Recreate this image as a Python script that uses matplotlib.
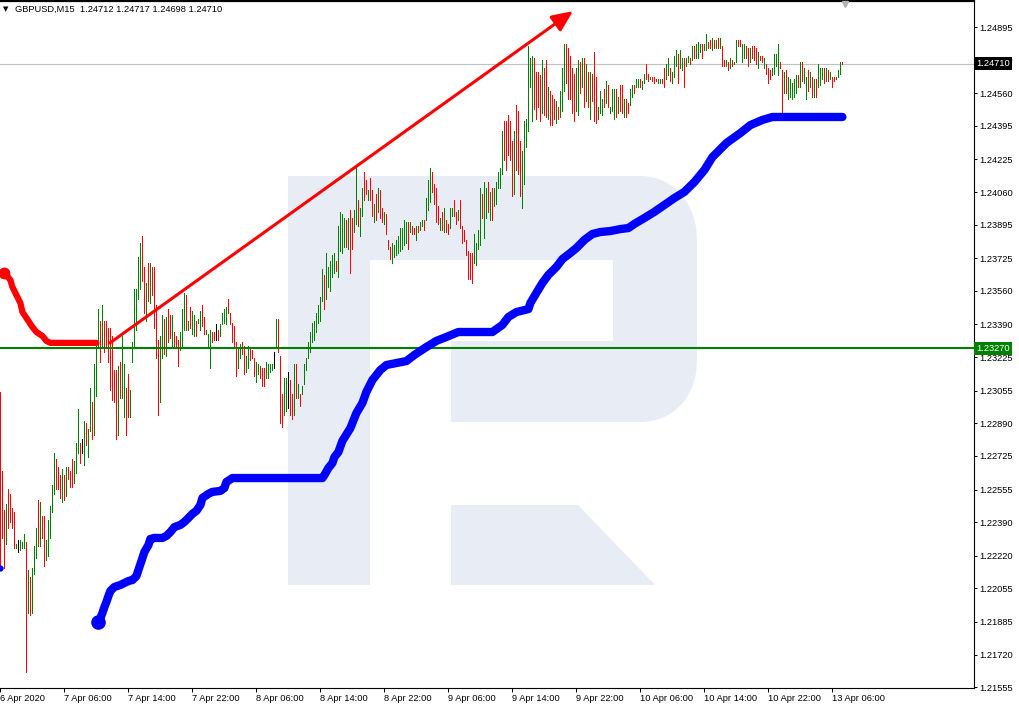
import matplotlib.pyplot as plt
from matplotlib.path import Path
from matplotlib.patches import PathPatch
from matplotlib.transforms import Affine2D

plt.rcParams['font.family'] = ['Liberation Sans', 'DejaVu Sans']

W, H = 1019, 710

symbol_line = "GBPUSD,M15  1.24712 1.24717 1.24698 1.24710"

# GBPUSD M15 bars, bar 0 = 6 Apr 22:00 (high / low)
high = [
    1.2305, 1.2265, 1.2245, 1.2248, 1.2256, 1.2253, 1.2246, 1.2244, 1.2228, 1.2230,
    1.2230, 1.2229, 1.2233, 1.2229, 1.2215, 1.2211, 1.2216, 1.2227, 1.2236, 1.2250,
    1.2249, 1.2242, 1.2242, 1.2230, 1.2240, 1.2247, 1.2258, 1.2274, 1.2271, 1.2267,
    1.2263, 1.2266, 1.2263, 1.2267, 1.2267, 1.2265, 1.2271, 1.2270, 1.2279, 1.2296,
    1.2279, 1.2281, 1.2290, 1.2289, 1.2286, 1.2307, 1.2300, 1.2319, 1.2328, 1.2347,
    1.2341, 1.2349, 1.2341, 1.2341, 1.2337, 1.2337, 1.2333, 1.2316, 1.2316, 1.2318,
    1.2320, 1.2333, 1.2319, 1.2307, 1.2314, 1.2306, 1.2330, 1.2357, 1.2357, 1.2373,
    1.2380, 1.2384, 1.2368, 1.2360, 1.2370, 1.2370, 1.2368, 1.2368, 1.2349, 1.2331,
    1.2333, 1.2344, 1.2342, 1.2343, 1.2347, 1.2344, 1.2344, 1.2335, 1.2333, 1.2331,
    1.2335, 1.2347, 1.2355, 1.2354, 1.2341, 1.2348, 1.2346, 1.2344, 1.2341, 1.2342,
    1.2346, 1.2349, 1.2343, 1.2336, 1.2334, 1.2336, 1.2335, 1.2335, 1.2339, 1.2336,
    1.2339, 1.2345, 1.2347, 1.2348, 1.2352, 1.2345, 1.2340, 1.2338, 1.2330, 1.2327,
    1.2329, 1.2330, 1.2328, 1.2323, 1.2328, 1.2327, 1.2326, 1.2322, 1.2320, 1.2319,
    1.2318, 1.2317, 1.2317, 1.2320, 1.2319, 1.2319, 1.2319, 1.2325, 1.2342, 1.2342,
    1.2323, 1.2304, 1.2312, 1.2312, 1.2315, 1.2311, 1.2304, 1.2319, 1.2319, 1.2309,
    1.2304, 1.2308, 1.2319, 1.2322, 1.2330, 1.2335, 1.2340, 1.2341, 1.2345, 1.2349,
    1.2353, 1.2367, 1.2364, 1.2375, 1.2368, 1.2371, 1.2374, 1.2375, 1.2371, 1.2389,
    1.2396, 1.2395, 1.2393, 1.2392, 1.2393, 1.2397, 1.2393, 1.2397, 1.2418, 1.2402,
    1.2398, 1.2408, 1.2416, 1.2412, 1.2407, 1.2413, 1.2407, 1.2400, 1.2405, 1.2408,
    1.2407, 1.2398, 1.2396, 1.2395, 1.2382, 1.2378, 1.2380, 1.2379, 1.2382, 1.2384,
    1.2388, 1.2388, 1.2392, 1.2391, 1.2391, 1.2391, 1.2389, 1.2388, 1.2389, 1.2389,
    1.2391, 1.2392, 1.2392, 1.2403, 1.2412, 1.2418, 1.2416, 1.2410, 1.2408, 1.2399,
    1.2393, 1.2396, 1.2398, 1.2392, 1.2390, 1.2398, 1.2398, 1.2402, 1.2396, 1.2397,
    1.2402, 1.2389, 1.2387, 1.2382, 1.2376, 1.2375, 1.2375, 1.2385, 1.2380, 1.2387,
    1.2408, 1.2405, 1.2411, 1.2408, 1.2411, 1.2406, 1.2408, 1.2408, 1.2411, 1.2416,
    1.2418, 1.2437, 1.2442, 1.2442, 1.2445, 1.2442, 1.2432, 1.2437, 1.2450, 1.2447,
    1.2432, 1.2427, 1.2442, 1.2443, 1.2480, 1.2474, 1.2475, 1.2474, 1.2467, 1.2467,
    1.2465, 1.2473, 1.2469, 1.2473, 1.2459, 1.2457, 1.2455, 1.2453, 1.2452, 1.2449,
    1.2457, 1.2469, 1.2481, 1.2481, 1.2479, 1.2475, 1.2469, 1.2466, 1.2469, 1.2473,
    1.2472, 1.2474, 1.2474, 1.2471, 1.2467, 1.2467, 1.2466, 1.2477, 1.2464, 1.2449,
    1.2457, 1.2453, 1.2458, 1.2462, 1.2460, 1.2449, 1.2458, 1.2458, 1.2458, 1.2454,
    1.2460, 1.2460, 1.2453, 1.2453, 1.2451, 1.2458, 1.2460, 1.2460, 1.2463, 1.2463,
    1.2463, 1.2462, 1.2466, 1.2471, 1.2466, 1.2464, 1.2464, 1.2464, 1.2463, 1.2463,
    1.2463, 1.2463, 1.2469, 1.2471, 1.2474, 1.2469, 1.2467, 1.2475, 1.2478, 1.2476,
    1.2478, 1.2474, 1.2474, 1.2474, 1.2475, 1.2474, 1.2480, 1.2480, 1.2481, 1.2482,
    1.2481, 1.2481, 1.2481, 1.2486, 1.2482, 1.2483, 1.2484, 1.2483, 1.2483, 1.2484,
    1.2484, 1.2480, 1.2473, 1.2473, 1.2472, 1.2474, 1.2473, 1.2472, 1.2483, 1.2483,
    1.2483, 1.2481, 1.2481, 1.2480, 1.2479, 1.2479, 1.2480, 1.2480, 1.2479, 1.2477,
    1.2475, 1.2475, 1.2474, 1.2471, 1.2469, 1.2468, 1.2469, 1.2476, 1.2476, 1.2481,
    1.2472, 1.2468, 1.2467, 1.2468, 1.2464, 1.2463, 1.2461, 1.2463, 1.2465, 1.2465,
    1.2472, 1.2472, 1.2469, 1.2464, 1.2468, 1.2467, 1.2464, 1.2463, 1.2463, 1.2471,
    1.2469, 1.2469, 1.2469, 1.2469, 1.2468, 1.2467, 1.2464, 1.2464, 1.2464, 1.2468,
    1.2472, 1.2472,
]
low = [
    1.2216, 1.2231, 1.2216, 1.2228, 1.2236, 1.2239, 1.2236, 1.2226, 1.2226, 1.2224,
    1.2225, 1.2226, 1.2226, 1.2163, 1.2193, 1.2192, 1.2193, 1.2213, 1.2221, 1.2227,
    1.2227, 1.2231, 1.2217, 1.2220, 1.2222, 1.2231, 1.2244, 1.2253, 1.2256, 1.2256,
    1.2251, 1.2249, 1.2250, 1.2252, 1.2261, 1.2257, 1.2257, 1.2259, 1.2264, 1.2274,
    1.2269, 1.2274, 1.2268, 1.2278, 1.2272, 1.2285, 1.2281, 1.2283, 1.2303, 1.2327,
    1.2320, 1.2328, 1.2325, 1.2328, 1.2320, 1.2306, 1.2301, 1.2300, 1.2281, 1.2283,
    1.2302, 1.2302, 1.2292, 1.2283, 1.2292, 1.2292, 1.2320, 1.2327, 1.2336, 1.2352,
    1.2357, 1.2361, 1.2345, 1.2341, 1.2351, 1.2350, 1.2354, 1.2337, 1.2322, 1.2293,
    1.2300, 1.2322, 1.2324, 1.2323, 1.2330, 1.2332, 1.2328, 1.2327, 1.2327, 1.2318,
    1.2326, 1.2327, 1.2336, 1.2336, 1.2336, 1.2337, 1.2334, 1.2333, 1.2333, 1.2340,
    1.2336, 1.2338, 1.2334, 1.2334, 1.2328, 1.2317, 1.2330, 1.2331, 1.2331, 1.2331,
    1.2333, 1.2339, 1.2340, 1.2339, 1.2345, 1.2339, 1.2330, 1.2328, 1.2313, 1.2317,
    1.2322, 1.2324, 1.2314, 1.2315, 1.2317, 1.2321, 1.2322, 1.2313, 1.2310, 1.2314,
    1.2312, 1.2308, 1.2308, 1.2312, 1.2312, 1.2315, 1.2316, 1.2317, 1.2328, 1.2325,
    1.2289, 1.2287, 1.2293, 1.2295, 1.2297, 1.2293, 1.2291, 1.2293, 1.2302, 1.2302,
    1.2298, 1.2304, 1.2309, 1.2316, 1.2322, 1.2325, 1.2330, 1.2331, 1.2335, 1.2340,
    1.2341, 1.2351, 1.2347, 1.2352, 1.2358, 1.2356, 1.2363, 1.2365, 1.2366, 1.2363,
    1.2376, 1.2375, 1.2378, 1.2378, 1.2377, 1.2365, 1.2377, 1.2386, 1.2390, 1.2389,
    1.2384, 1.2394, 1.2402, 1.2405, 1.2402, 1.2402, 1.2394, 1.2391, 1.2392, 1.2396,
    1.2393, 1.2391, 1.2390, 1.2385, 1.2377, 1.2372, 1.2370, 1.2373, 1.2374, 1.2375,
    1.2376, 1.2377, 1.2379, 1.2380, 1.2377, 1.2386, 1.2385, 1.2385, 1.2382, 1.2386,
    1.2387, 1.2389, 1.2387, 1.2392, 1.2397, 1.2401, 1.2406, 1.2400, 1.2391, 1.2390,
    1.2387, 1.2387, 1.2386, 1.2386, 1.2385, 1.2388, 1.2394, 1.2394, 1.2390, 1.2392,
    1.2388, 1.2380, 1.2381, 1.2374, 1.2362, 1.2362, 1.2360, 1.2370, 1.2369, 1.2377,
    1.2379, 1.2393, 1.2383, 1.2393, 1.2396, 1.2392, 1.2392, 1.2399, 1.2400, 1.2408,
    1.2408, 1.2415, 1.2422, 1.2417, 1.2425, 1.2422, 1.2404, 1.2405, 1.2417, 1.2415,
    1.2404, 1.2398, 1.2410, 1.2429, 1.2437, 1.2459, 1.2442, 1.2448, 1.2443, 1.2449,
    1.2442, 1.2446, 1.2445, 1.2444, 1.2443, 1.2440, 1.2440, 1.2443, 1.2441, 1.2443,
    1.2444, 1.2447, 1.2457, 1.2461, 1.2453, 1.2453, 1.2446, 1.2442, 1.2447, 1.2445,
    1.2456, 1.2459, 1.2449, 1.2452, 1.2449, 1.2443, 1.2452, 1.2442, 1.2441, 1.2443,
    1.2446, 1.2445, 1.2449, 1.2451, 1.2449, 1.2446, 1.2447, 1.2443, 1.2444, 1.2446,
    1.2447, 1.2446, 1.2444, 1.2444, 1.2446, 1.2450, 1.2454, 1.2456, 1.2459, 1.2459,
    1.2459, 1.2458, 1.2461, 1.2463, 1.2462, 1.2463, 1.2462, 1.2461, 1.2462, 1.2461,
    1.2461, 1.2461, 1.2459, 1.2463, 1.2465, 1.2462, 1.2461, 1.2464, 1.2470, 1.2461,
    1.2469, 1.2468, 1.2459, 1.2470, 1.2472, 1.2471, 1.2473, 1.2474, 1.2474, 1.2474,
    1.2477, 1.2474, 1.2478, 1.2478, 1.2479, 1.2479, 1.2478, 1.2479, 1.2479, 1.2479,
    1.2479, 1.2470, 1.2470, 1.2470, 1.2468, 1.2469, 1.2470, 1.2471, 1.2472, 1.2480,
    1.2480, 1.2472, 1.2474, 1.2474, 1.2470, 1.2472, 1.2474, 1.2473, 1.2471, 1.2469,
    1.2473, 1.2472, 1.2469, 1.2466, 1.2461, 1.2463, 1.2465, 1.2466, 1.2470, 1.2465,
    1.2469, 1.2446, 1.2456, 1.2456, 1.2453, 1.2454, 1.2453, 1.2454, 1.2456, 1.2459,
    1.2459, 1.2462, 1.2461, 1.2453, 1.2457, 1.2459, 1.2454, 1.2454, 1.2454, 1.2459,
    1.2460, 1.2463, 1.2461, 1.2462, 1.2462, 1.2463, 1.2459, 1.2462, 1.2463, 1.2464,
    1.2466, 1.2471,
]
# 1 = bull bar, -1 = bear bar, 0 = doji
direction = [
    -1, -1, -1, 1, -1, -1, -1, -1, 1, 0,
    1, 1, 1, -1, 1, -1, 1, 1, 1, -1,
    1, -1, -1, 1, 1, 1, 1, 1, -1, -1,
    -1, 1, -1, 1, -1, -1, -1, 1, 1, 1,
    -1, 0, 1, -1, 1, 1, -1, 1, 1, 1,
    -1, 1, -1, -1, -1, -1, -1, -1, -1, 1,
    -1, 1, 1, -1, -1, 1, 1, 1, 1, 1,
    1, -1, -1, 1, -1, 1, -1, -1, -1, -1,
    1, 1, -1, 1, -1, -1, 1, -1, -1, -1,
    1, 1, 1, -1, 1, -1, 1, 1, -1, 1,
    1, -1, -1, 1, 1, 1, -1, -1, 0, -1,
    1, 1, 1, 1, -1, -1, -1, -1, -1, 1,
    1, -1, -1, 1, 1, -1, -1, -1, 1, 1,
    -1, -1, -1, 1, 1, 1, 1, 0, 1, -1,
    -1, -1, 1, 1, 0, -1, -1, 1, -1, 1,
    -1, 1, 1, 1, 1, 1, 1, 1, 1, 1,
    1, 1, -1, 1, 1, 1, 1, 1, -1, 1,
    1, 1, 1, -1, 1, -1, -1, 1, 1, -1,
    1, 1, -1, -1, 1, -1, -1, 1, -1, 1,
    -1, -1, 1, -1, -1, -1, 1, 1, 1, 1,
    1, 1, 1, 1, -1, 1, -1, -1, 1, -1,
    1, 1, -1, 1, 1, 1, -1, -1, -1, -1,
    1, -1, 1, -1, -1, 1, 1, -1, -1, 1,
    -1, -1, -1, -1, -1, -1, -1, 1, 1, 1,
    1, -1, 1, 1, -1, 1, -1, 1, 1, 1,
    1, 1, -1, -1, -1, -1, -1, 1, -1, -1,
    -1, 1, 1, 1, 1, 1, 1, -1, -1, -1,
    -1, 1, -1, -1, 1, -1, -1, -1, 1, -1,
    1, 1, 1, -1, -1, -1, -1, -1, 1, 1,
    -1, 1, -1, 1, -1, 1, -1, -1, -1, 1,
    1, 1, -1, 1, -1, 1, 1, 1, -1, 1,
    -1, -1, 1, -1, -1, 1, 1, -1, 1, 1,
    -1, 1, 1, -1, -1, 1, -1, -1, -1, 1,
    1, -1, -1, 1, 1, -1, 1, 1, 1, -1,
    1, 1, -1, 1, 1, -1, 1, -1, 1, 1,
    1, -1, 1, 1, -1, -1, 1, -1, 1, -1,
    1, -1, -1, 1, -1, 1, -1, 1, 1, -1,
    -1, 1, 1, -1, -1, 1, -1, -1, -1, 1,
    -1, -1, 1, -1, -1, -1, 1, 1, 1, 1,
    -1, -1, 1, -1, 1, 1, 1, 1, 1, -1,
    1, -1, 1, 1, -1, 1, -1, 1, -1, 1,
    1, 1, -1, 1, -1, 1, -1, -1, 1, 1,
    1, -1,
]

# trailing-stop style indicator lines (bar index, price)
blue_bar = [49, 50, 51, 52, 53, 54, 55, 57, 60, 62, 64, 66, 68, 69, 70, 71, 72, 74, 75, 77,
            81, 83, 85, 87, 90, 92, 94, 96, 98, 100, 101, 104, 106, 110, 112, 113, 116, 161, 162, 164,
            166, 167, 169, 171, 175, 178, 181, 183, 186, 190, 193, 198, 203, 207, 213, 218, 223, 229, 246, 251,
            254, 258, 264, 265, 268, 271, 274, 278, 281, 285, 288, 292, 296, 300, 305, 310, 314, 317, 322, 327,
            332, 337, 342, 347, 352, 356, 363, 370, 375, 381, 386, 421]
blue_level = [1.21885, 1.21905, 1.2193, 1.2196, 1.21986, 1.22016, 1.22042, 1.22062, 1.22072, 1.22082,
              1.22092, 1.22097, 1.22117, 1.22148, 1.22178, 1.22208, 1.22239, 1.22274, 1.22305, 1.2231,
              1.2231, 1.2232, 1.2234, 1.22365, 1.22376, 1.22391, 1.22411, 1.22432, 1.22447, 1.22477,
              1.22512, 1.22533, 1.22543, 1.22548, 1.22563, 1.22593, 1.22613, 1.22613, 1.22628, 1.22664,
              1.22689, 1.22719, 1.22745, 1.22801, 1.22866, 1.22942, 1.22993, 1.23049, 1.23109, 1.2316,
              1.23185, 1.23195, 1.23205, 1.23236, 1.23276, 1.23307, 1.23327, 1.23352, 1.23352, 1.23388,
              1.23428, 1.23453, 1.23468, 1.23499, 1.2355, 1.236, 1.23641, 1.23681, 1.23721, 1.23752,
              1.23777, 1.23818, 1.23848, 1.23858, 1.23863, 1.23873, 1.23878, 1.23899, 1.23929, 1.2396,
              1.23995, 1.2403, 1.24061, 1.24111, 1.24172, 1.24237, 1.24308, 1.24359, 1.24399, 1.24425,
              1.2444, 1.2444]
blue_prev = 1.22158  # tail of the previous blue stretch at bar 0

red_bar = [2, 5, 6, 8, 10, 11, 13, 16, 18, 21, 23, 25, 48]
red_level = [1.23651, 1.23615, 1.2358, 1.23539, 1.23499, 1.23453, 1.23423, 1.23377, 1.23352,
             1.23332, 1.23307, 1.23297, 1.23297]

# hand-drawn trend arrow (bar index, price)
trend_from = (54.8, 1.23297)
trend_to = (286.3, 1.24976)

last_price = 1.24710
level_price = 1.23270

price_ticks = [1.24895, 1.24730, 1.24560, 1.24395, 1.24225, 1.24060, 1.23895, 1.23725,
               1.23560, 1.23390, 1.23225, 1.23055, 1.22890, 1.22725, 1.22555, 1.22390,
               1.22220, 1.22055, 1.21885, 1.21720, 1.21555]
time_labels = ["6 Apr 2020", "7 Apr 06:00", "7 Apr 14:00", "7 Apr 22:00", "8 Apr 06:00",
               "8 Apr 14:00", "8 Apr 22:00", "9 Apr 06:00", "9 Apr 14:00", "9 Apr 22:00",
               "10 Apr 06:00", "10 Apr 14:00", "10 Apr 22:00", "13 Apr 06:00"]
bars_per_label = 32

fig = plt.figure(figsize=(W / 100, H / 100), dpi=100)
ax = fig.add_axes([0, 22 / H, 974 / W, 687 / H])
ax.set_xlim(-0.2, 486.8)
ax.set_ylim(1.215507, 1.250269)

# watermark logo, in figure pixels (y down)
px = Affine2D().scale(1 / W, -1 / H).translate(0, 1) + fig.transFigure
M, L, C = Path.MOVETO, Path.LINETO, Path.CURVE4
logo_verts = [(288, 176), (640, 176), (675, 176), (697, 205), (697, 240), (697, 360),
              (697, 395), (675, 422), (640, 422), (451, 422), (451, 341), (613, 341),
              (613, 260), (370, 260), (370, 585), (288, 585), (288, 176),
              (451, 505), (578, 505), (655, 585), (451, 585), (451, 505)]
logo_codes = [M, L, C, C, C, L, C, C, C, L, L, L, L, L, L, L, Path.CLOSEPOLY,
              M, L, L, L, Path.CLOSEPOLY]
ax.add_patch(PathPatch(Path(logo_verts, logo_codes), transform=px,
                       facecolor='#e8ecf4', edgecolor='none', zorder=0))

ax.axhline(last_price, color='#c0c0c0', lw=0.8, zorder=1)

idx = list(range(len(high)))
colors = ['#008000' if d > 0 else ('#ff0000' if d < 0 else 'black') for d in direction]
ax.vlines(idx, low, high, colors=colors, linewidth=0.5, antialiased=False, zorder=2)

ax.axhline(level_price, color='#008000', lw=1.5, zorder=3)

ax.plot(red_bar, red_level, color='#ff0000', lw=4.5, solid_capstyle='round',
        solid_joinstyle='round', zorder=4)
ax.plot(red_bar[0], red_level[0], 'o', color='#ff0000', ms=7.5, zorder=4)
ax.plot(blue_bar, blue_level, color='#0000ff', lw=6, solid_capstyle='round',
        solid_joinstyle='round', zorder=4)
ax.plot(blue_bar[0], blue_level[0], 'o', color='#0000ff', ms=9.5, zorder=4)
ax.plot(0, blue_prev, 'o', color='#0000ff', ms=3.5, zorder=4)

ax.annotate('', xy=trend_to, xytext=trend_from, zorder=5,
            arrowprops=dict(arrowstyle='-|>,head_length=0.9,head_width=0.4',
                            color='#ff0000', lw=2.2, mutation_scale=14,
                            shrinkA=0, shrinkB=0))

# axes frame like the terminal
ax.spines['left'].set_visible(False)
ax.spines['top'].set_linewidth(1.6)
ax.spines['right'].set_linewidth(0.8)
ax.spines['bottom'].set_linewidth(0.8)

ax.yaxis.tick_right()
ax.set_yticks(price_ticks)
ax.set_yticklabels([f"{p:.5f}" for p in price_ticks])
ax.set_xticks([k * bars_per_label for k in range(len(time_labels))])
ax.set_xticklabels(time_labels)
for lab in ax.get_xticklabels():
    lab.set_horizontalalignment('left')
ax.tick_params(axis='y', which='both', direction='out', length=2.5, width=0.7,
               pad=1.5, labelsize=6.7, colors='black')
ax.tick_params(axis='x', which='both', direction='out', length=3, width=0.7,
               pad=1.5, labelsize=6.7, colors='black')

box_tr = ax.get_yaxis_transform()
ax.text(1.002, last_price, f"{last_price:.5f}", transform=box_tr, ha='left', va='center',
        fontsize=6.7, color='white', zorder=6, clip_on=False,
        bbox=dict(boxstyle='square,pad=0.22', fc='black', ec='none'))
ax.text(1.002, level_price, f"{level_price:.5f}", transform=box_tr, ha='left', va='center',
        fontsize=6.7, color='white', zorder=6, clip_on=False,
        bbox=dict(boxstyle='square,pad=0.22', fc='#008000', ec='none'))

# chart shift marker
ax.plot([422.3], [1 - 3 / 687], marker='v', ms=5, color='#b4b4b4',
        transform=ax.get_xaxis_transform(), clip_on=False, zorder=6)

fig.text(3 / W, 1 - 9 / H, '\u25bc', fontsize=5, family='DejaVu Sans', va='center')
fig.text(15 / W, 1 - 9 / H, symbol_line, fontsize=6.7, va='center', ha='left')

fig.savefig('out.png', dpi=100, facecolor='white')
